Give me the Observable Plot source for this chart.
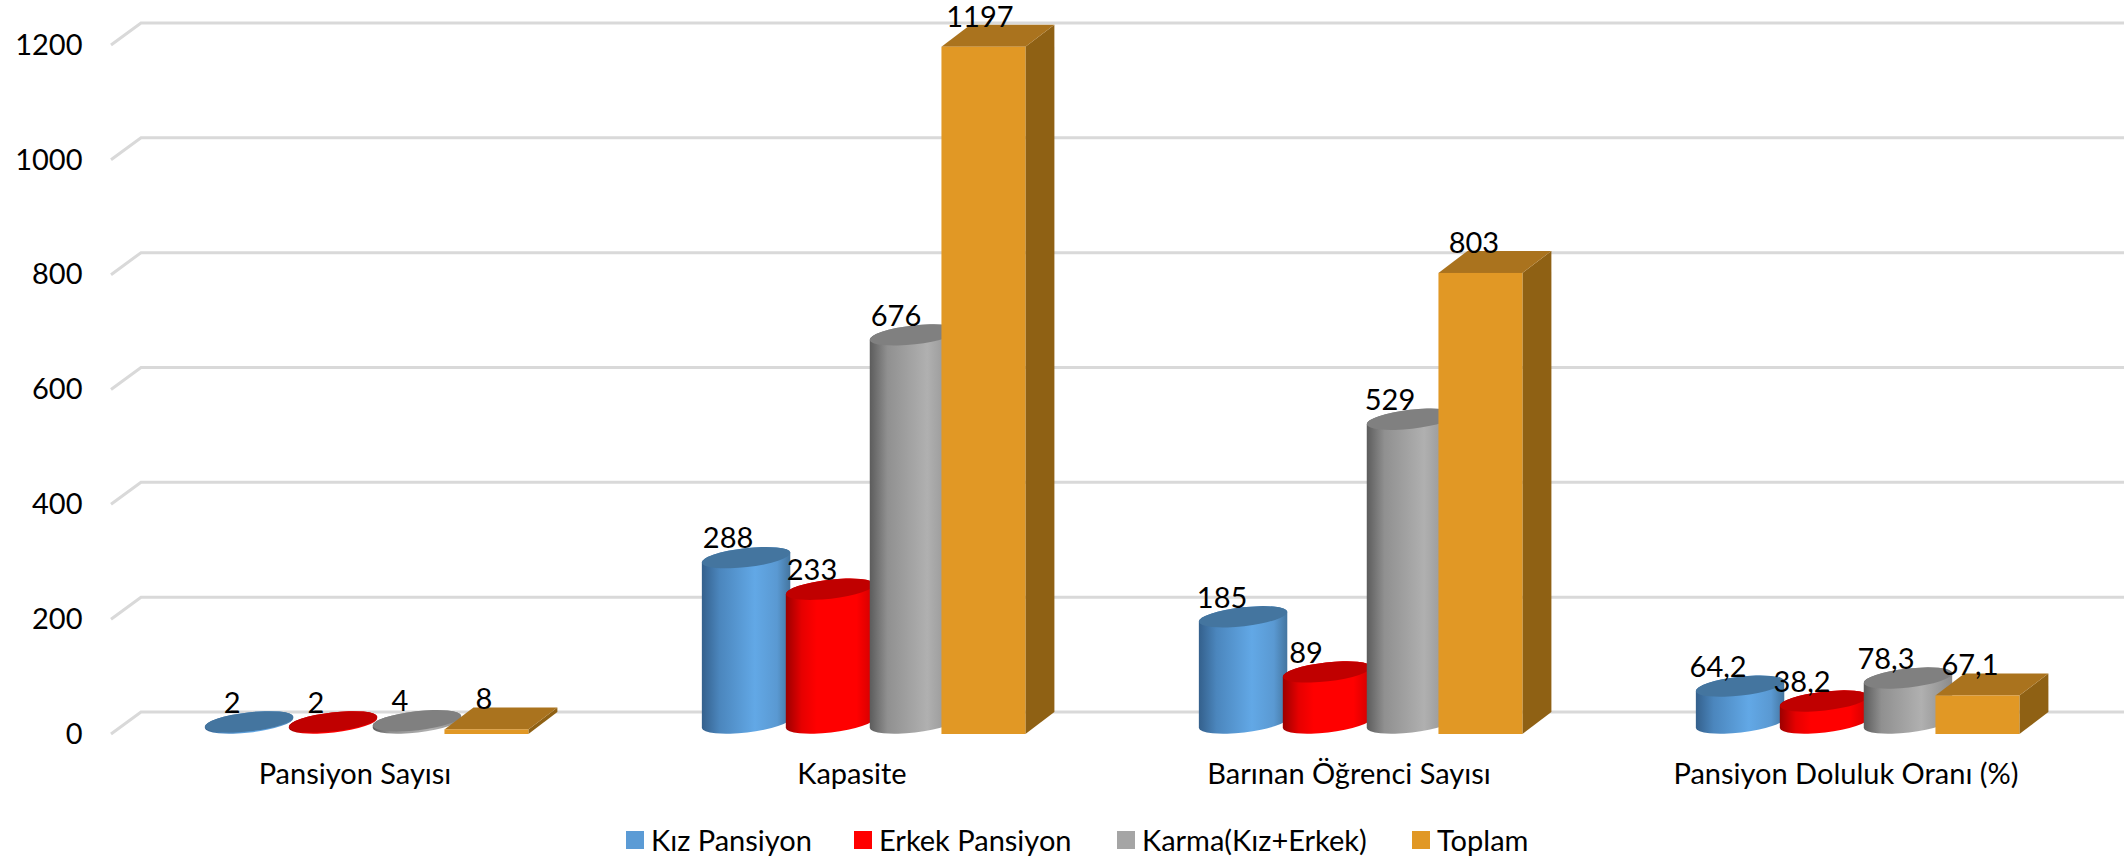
<!DOCTYPE html>
<html>
<head>
<meta charset="utf-8">
<script src="https://cdn.jsdelivr.net/npm/d3@7"></script>
<script src="https://cdn.jsdelivr.net/npm/@observablehq/plot@0.6"></script>
<style>
  html, body { margin: 0; padding: 0; background: #fff; }
  #chart { width: 2126px; height: 859px; position: relative; overflow: hidden; font-family: Lato, sans-serif; color: #000; }
  .legend { position: relative; height: 44px; }
  .item { position: absolute; top: 16px; display: flex; align-items: center; font-size: 29px; line-height: 18px; height: 18px; white-space: nowrap; }
  .sw { width: 18px; height: 18px; margin-right: 7px; flex: none; }
</style>
</head>
<body>
<div id="chart"></div>
<script>
const categories = ["Pansiyon Sayısı", "Kapasite", "Barınan Öğrenci Sayısı", "Pansiyon Doluluk Oranı (%)"];
const seriesNames = ["Kız Pansiyon", "Erkek Pansiyon", "Karma(Kız+Erkek)", "Toplam"];
const kiz = [2, 288, 185, 64.2];
const erkek = [2, 233, 89, 38.2];
const karma = [4, 676, 529, 78.3];
const toplam = [8, 1197, 803, 67.1];
const seriesValues = [kiz, erkek, karma, toplam];
const yTicks = [0, 200, 400, 600, 800, 1000, 1200];
const colors = ["#5b9bd5", "#ff0000", "#a5a5a5", "#e19825"];
const legendLeft = [626, 854, 1117, 1412];
const labelShift = [-3, -4, -7, -8];

const rows = categories.flatMap((category, c) =>
  seriesNames.map((series, s) => ({category, series, s, value: seriesValues[s][c]})));

const plotWidth = 2126, plotLeft = 111;
const depthX = 29, depthY = -22;
const tops = ["#44759f", "#c00000", "#808080"];
const boxTop = "#aa731e", boxSide = "#8f6114";
const tilt = -6.5;

function drawBars(index, scales, values) {
  const g = d3.create("svg:g");
  const w = scales.x.bandwidth();
  const y0 = scales.y(0);
  for (const i of index) {
    const row = rows[i];
    const x = values.x[i], y = scales.y(row.value);
    if (row.s === 3) {
      g.append("polygon").attr("fill", boxSide)
        .attr("points", [[x + w, y], [x + w + depthX, y + depthY], [x + w + depthX, y0 + depthY], [x + w, y0]].join(" "));
      g.append("polygon").attr("fill", boxTop)
        .attr("points", [[x, y], [x + depthX, y + depthY], [x + w + depthX, y + depthY], [x + w, y]].join(" "));
      g.append("rect").attr("x", x).attr("y", y).attr("width", w).attr("height", y0 - y).attr("fill", colors[3]);
    } else {
      const cx = x + (w + depthX) / 2, a = 44.5, b = 9.5;
      const ux = a * Math.cos(tilt * Math.PI / 180), uy = a * Math.sin(tilt * Math.PI / 180);
      const top = y + depthY / 2, bottom = y0 + depthY / 2;
      g.append("path").attr("fill", `url(#cyl${row.s})`).attr("d",
        `M${cx - ux},${top - uy}L${cx - ux},${bottom - uy}` +
        `A${a},${b} ${tilt} 0 0 ${cx + ux},${bottom + uy}` +
        `L${cx + ux},${top + uy}A${a},${b} ${tilt} 0 0 ${cx - ux},${top - uy}Z`);
      g.append("ellipse").attr("fill", tops[row.s])
        .attr("cx", cx).attr("cy", top).attr("rx", a).attr("ry", b)
        .attr("transform", `rotate(${tilt} ${cx} ${top})`);
    }
  }
  return g.node();
}

function drawGrid(index, scales) {
  const g = d3.create("svg:g").attr("fill", "none").attr("stroke", "#d9d9d9").attr("stroke-width", 3);
  for (const i of index) {
    const y = scales.y(yTicks[i]);
    g.append("path").attr("d",
      `M${plotLeft - 1},${y}L${plotLeft - 1 + depthX + 1},${y + depthY}L${plotWidth - 3},${y + depthY}`);
  }
  return g.node();
}

const plot = Plot.plot({
  width: plotWidth,
  height: 815,
  marginLeft: plotLeft,
  marginRight: 26,
  marginTop: 45,
  marginBottom: 81,
  style: {fontFamily: "Lato, sans-serif", fontSize: "29px", color: "#000", background: "#fff", overflow: "visible"},
  fx: {domain: categories, padding: 0, label: null},
  x: {domain: seriesNames, paddingInner: 0, paddingOuter: 0.96, round: false, axis: null, label: null},
  y: {domain: [0, 1200], label: null, axis: null},
  color: {domain: seriesNames, range: colors},
  marks: [
    Plot.ruleY(yTicks, {fx: () => categories[0], y: d => d, render: drawGrid}),
    Plot.axisY(yTicks, {anchor: "left", tickSize: 0, tickPadding: 30, label: null, tickFormat: d => String(d), fontSize: 29}),
    Plot.axisFx({anchor: "bottom", tickSize: 0, tickPadding: 29, label: null, fontSize: 29, dx: -6}),
    Plot.barY(rows, {fx: "category", x: "series", y: "value", fill: "series", render: drawBars}),
    ...categories.map((c, k) => Plot.text(rows.filter(d => d.category === c), {
      fx: "category", x: "series", y: "value",
      text: d => String(d.value).replace(".", ","),
      dx: labelShift[k], dy: -30, fontSize: 29, fill: "#000"
    }))
  ]
});

const defs = d3.select(plot).insert("svg:defs", ":first-child");
const stops = [
  [[0, "#34608c"], [0.2, "#4b86bd"], [0.6, "#62a8e6"], [0.85, "#5a99d2"], [1, "#44759f"]],
  [[0, "#9c0000"], [0.18, "#e60000"], [0.35, "#ff0000"], [0.8, "#ff0000"], [1, "#cf0000"]],
  [[0, "#5c5c5c"], [0.2, "#909090"], [0.65, "#b0b0b0"], [1, "#8b8b8b"]]
];
stops.forEach((list, s) => {
  const lg = defs.append("svg:linearGradient").attr("id", `cyl${s}`).attr("x1", 0).attr("x2", 1).attr("y1", 0).attr("y2", 0);
  list.forEach(([o, c]) => lg.append("svg:stop").attr("offset", o).attr("stop-color", c));
});

const chart = document.getElementById("chart");
chart.appendChild(plot);
const legend = document.createElement("div");
legend.className = "legend";
seriesNames.forEach((name, i) => {
  const item = document.createElement("div");
  item.className = "item";
  item.style.left = legendLeft[i] + "px";
  item.innerHTML = `<span class="sw" style="background:${colors[i]}"></span><span>${name}</span>`;
  legend.appendChild(item);
});
chart.appendChild(legend);
</script>
</body>
</html>
